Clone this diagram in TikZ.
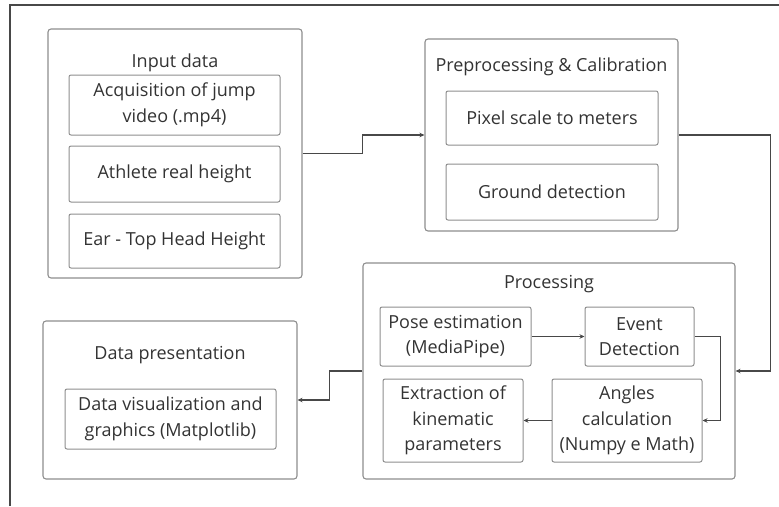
\documentclass[tikz,border=0pt]{standalone}
\usepackage{fontspec}
\setmainfont{Open Sans}
\usetikzlibrary{positioning, arrows.meta}
\definecolor{boxgray}{HTML}{8E8E8E}
\definecolor{textgray}{HTML}{333333}
\definecolor{linegray}{HTML}{484848}
\tikzset{
  container/.style={rectangle, draw=boxgray, line width=1.1pt,
    rounded corners=3pt, inner sep=0pt},
  grouptitle/.style={font=\fontsize{18}{21}\selectfont, text=textgray},
  stepbox/.style={rectangle, draw=boxgray, line width=1pt,
    rounded corners=2pt, inner sep=0pt, align=center,
    text=textgray, font=\fontsize{18}{25.5}\selectfont},
  arrow/.style={line width=1.1pt, draw=linegray,
    -{Stealth[length=5pt, width=4.5pt]}},
}

\begin{document}
\begin{tikzpicture}[x=1pt, y=-1pt]

  \useasboundingbox (0,0) rectangle (779,506);
  \draw[linegray, line width=1.4pt] (10,506) -- (10,5) -- (779,5);

  % Input data
  \node[container, minimum width=254pt, minimum height=249pt] (input) at (175,153.5) {};
  \node[grouptitle] (input-title) at (175,63) {Input data};
  \node[stepbox, minimum width=211pt, minimum height=60pt] (video) at (174.5,105)
    {Acquisition of jump\\video (.mp4)};
  \node[stepbox, minimum width=211pt, minimum height=56pt, below=10pt of video] (height)
    {Athlete real height};
  \node[stepbox, minimum width=211pt, minimum height=54pt, below=11pt of height] (ear)
    {Ear - Top Head Height};

  % Preprocessing & Calibration
  \node[container, minimum width=253pt, minimum height=192pt] (prep) at (551.5,135) {};
  \node[grouptitle] (prep-title) at (551.5,67) {Preprocessing \& Calibration};
  \node[stepbox, minimum width=212pt, minimum height=54pt] (scale) at (552,118)
    {Pixel scale to meters};
  \node[stepbox, minimum width=212pt, minimum height=56pt, below=18pt of scale] (ground)
    {Ground detection};

  % Processing
  \node[container, minimum width=372pt, minimum height=216pt] (proc) at (549,371) {};
  \node[grouptitle] (proc-title) at (549,284) {Processing};
  \node[stepbox, minimum width=151pt, minimum height=59pt] (pose) at (455.5,336.5)
    {Pose estimation\\(MediaPipe)};
  \node[stepbox, minimum width=109pt, minimum height=59pt] (event) at (639.5,336.5)
    {Event\\Detection};
  \node[stepbox, minimum width=150pt, minimum height=83pt] (angles) at (627,420.5)
    {Angles\\calculation\\(Numpy e Math)};
  \node[stepbox, minimum width=140pt, minimum height=83pt] (kinem) at (453,420.5)
    {Extraction of\\kinematic\\parameters};

  % Data presentation
  \node[container, minimum width=254pt, minimum height=158pt] (present) at (170,400) {};
  \node[grouptitle] (present-title) at (170,355) {Data presentation};
  \node[stepbox, minimum width=211pt, minimum height=60pt] (plots) at (170.5,419)
    {Data visualization and\\graphics (Matplotlib)};

  % Connectors
  \draw[arrow] (input.east) -- ++(60,0) |- (prep.west);
  \draw[arrow] (prep.east) -- ++(92,0) |- (proc.east);
  \draw[arrow] (pose) -- (event);
  \draw[arrow] (event.east) -- ++(26,0) |- (angles.east);
  \draw[arrow] (angles) -- (kinem);
  \draw[arrow] (proc.west) -- ++(-33,0) |- (present.east);

\end{tikzpicture}
\end{document}
